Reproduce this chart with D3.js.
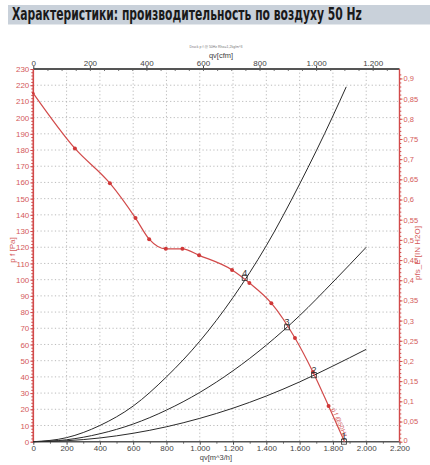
<!DOCTYPE html>
<html><head><meta charset="utf-8">
<script src="https://cdn.jsdelivr.net/npm/d3@7"></script>
<style>body{margin:0;background:#fff}svg{display:block}</style>
</head><body><svg id="c" width="430" height="465"></svg>
<script>
// ---- data ----
const titleText = "Характеристики: производительность по воздуху 50 Hz";
const subTitle = "Druck p f @ 50Hz Rho=1,2kg/m^3";
const xTicks = [0,200,400,600,800,1000,1200,1400,1600,1800,2000,2200];
const cfmTicks = [0,200,400,600,800,1000,1200];
const yTicks = [0,10,20,30,40,50,60,70,80,90,100,110,120,130,140,150,160,170,180,190,200,210,220,230];
const inTicks = [0,0.05,0.1,0.15,0.2,0.25,0.3,0.35,0.4,0.45,0.5,0.55,0.6,0.65,0.7,0.75,0.8,0.85,0.9];
// fan curve p f [Pa] vs qv [m^3/h]
const fanQ = [0,250,460,614,696,796,896,996,1194,1298,1430,1572,1680,1774,1870];
const fanP = [215,181,159.5,138,125,119,119,115,106,98,85.5,64,43,22,0];
const markerQ = [250,460,614,696,796,896,996,1194,1298,1430,1572,1680,1774];
const markerP = [181,159.5,138,125,119,119,115,106,98,85.5,64,43,22];
// system curves
const sysQ = [0,200,400,600,800,1000,1200,1400,1600,1800,2000];
const sys4 = [0,2.5,10,22,40,62,89,121,159,201];
const sys4endQ = 1880, sys4endP = 219;
const sys3 = [0,1.2,4.9,10.9,19.5,30.4,43.8,59.6,77.8,98.5,120];
const sys2 = [0,0.6,2.3,5.2,9.2,14.4,20.7,28.2,36.9,46.7,57];
// operating points
const opLabels = ["1","2","3","4"];
const opQ = [1866,1686,1524,1270];
const opP = [0,41,70.6,101];

// ---- layout ----
const L = 33.3, R = 399.5, T = 69, B = 441.7;
const svg = d3.select("#c");
const red = "#d24a4a", redTxt = "#d45a5a";
const loc = d3.formatLocale({decimal:",", thousands:".", grouping:[3], currency:["",""]});

const x = d3.scaleLinear().domain([0,2200]).range([L,R]);
const y = d3.scaleLinear().domain([0,230]).range([B,T]);
const xc = d3.scaleLinear().domain([0,2200/1.699]).range([L,R]);
const yi = d3.scaleLinear().domain([0,230/249.089]).range([B,T]);

// title
svg.append("rect").attr("x",8).attr("y",5).attr("width",422).attr("height",19.5).attr("fill","#c9d1da");
const tt = svg.append("text").attr("y",20.5).text(titleText)
  .attr("font-family","'Liberation Sans Narrow','DejaVu Sans Condensed',sans-serif")
  .attr("font-weight","bold").attr("font-size",17).attr("fill","#1a1a1a");
const tw = tt.node().getComputedTextLength();
tt.attr("transform",`translate(12,0) scale(${350/tw},1)`);

// grid
const g = svg.append("g");
g.selectAll("line.h").data(yTicks.filter(d=>d>0&&d<230)).join("line")
  .attr("x1",L).attr("x2",R).attr("y1",d=>y(d)).attr("y2",d=>y(d))
  .attr("stroke","#aaa").attr("stroke-width",0.8).attr("stroke-dasharray","1.2,2.4");
g.selectAll("line.v").data(xTicks.filter(d=>d>0&&d<2200)).join("line")
  .attr("y1",T).attr("y2",B).attr("x1",d=>x(d)).attr("x2",d=>x(d))
  .attr("stroke","#aaa").attr("stroke-width",0.8).attr("stroke-dasharray","1.2,2.4");

const font = "'Liberation Sans',Arial,sans-serif";
function styleAxis(sel, col, fs){
  sel.selectAll("text").attr("font-family",font).attr("font-size",fs).attr("fill",col);
  sel.selectAll("line").attr("stroke",col);
  sel.select(".domain").remove();
}
// bottom axis
const ax = svg.append("g").attr("transform",`translate(0,${B})`)
  .call(d3.axisBottom(x).tickValues(xTicks).tickSize(3).tickPadding(1).tickFormat(loc.format(",.0f")));
styleAxis(ax,"#444",8);
svg.append("g").attr("transform",`translate(0,${B})`)
  .call(d3.axisBottom(x).tickValues(d3.range(100,2200,200)).tickSize(2).tickFormat(""))
  .call(s=>{s.select(".domain").remove();s.selectAll("line").attr("stroke","#666");});
// top axis
const at = svg.append("g").attr("transform",`translate(0,${T})`)
  .call(d3.axisTop(xc).tickValues(cfmTicks).tickSize(3).tickPadding(0).tickFormat(loc.format(",.0f")));
styleAxis(at,"#444",8);
svg.append("g").attr("transform",`translate(0,${T})`)
  .call(d3.axisBottom(xc).tickValues(d3.range(50,1295,50)).tickSize(2).tickFormat(""))
  .call(s=>{s.select(".domain").remove();s.selectAll("line").attr("stroke","#777");});
// left axis
const al = svg.append("g").attr("transform",`translate(${L},0)`)
  .call(d3.axisLeft(y).tickValues(yTicks).tickSize(3).tickPadding(1));
styleAxis(al,redTxt,8);
svg.append("g").attr("transform",`translate(${L},0)`)
  .call(d3.axisLeft(y).tickValues(d3.range(0,231,2)).tickSize(2).tickFormat(""))
  .call(s=>{s.select(".domain").remove();s.selectAll("line").attr("stroke",red);});
// right axis
const ar = svg.append("g").attr("transform",`translate(${R},0)`)
  .call(d3.axisRight(yi).tickValues(inTicks).tickSize(3).tickPadding(1).tickFormat(loc.format(".2~f")));
styleAxis(ar,redTxt,7.5);
ar.selectAll(".tick text").filter(d=>d===0).attr("dy","0.05em");
svg.append("g").attr("transform",`translate(${R},0)`)
  .call(d3.axisRight(yi).tickValues(d3.range(0,0.92,0.01)).tickSize(1.8).tickFormat(""))
  .call(s=>{s.select(".domain").remove();s.selectAll("line").attr("stroke",red);});

// frame lines
svg.append("line").attr("x1",L).attr("x2",R).attr("y1",T).attr("y2",T).attr("stroke","#555").attr("stroke-width",2);
svg.append("line").attr("x1",L).attr("x2",R).attr("y1",B).attr("y2",B).attr("stroke","#555").attr("stroke-width",1.6);
svg.append("line").attr("x1",L).attr("x2",L).attr("y1",T).attr("y2",B).attr("stroke",red).attr("stroke-width",1.6);
svg.append("line").attr("x1",R).attr("x2",R).attr("y1",T).attr("y2",B).attr("stroke",red).attr("stroke-width",1.4);

// axis titles
svg.append("text").attr("x",216).attr("y",459.5).attr("text-anchor","middle").text("qv[m^3/h]")
  .attr("font-family",font).attr("font-size",7.5).attr("fill","#444");
svg.append("text").attr("x",221).attr("y",58).attr("text-anchor","middle").text("qv[cfm]")
  .attr("font-family",font).attr("font-size",7.5).attr("fill","#444");
svg.append("text").attr("x",216).attr("y",48).attr("text-anchor","middle").text(subTitle)
  .attr("font-family",font).attr("font-size",3.5).attr("fill","#777");
svg.append("text").attr("transform","translate(15,250) rotate(-90)").attr("text-anchor","middle").text("p f [Pa]")
  .attr("font-family",font).attr("font-size",8).attr("fill",redTxt);
svg.append("text").attr("transform","translate(420,253) rotate(-90)").attr("text-anchor","middle").text("pfs_E [IN H2O]")
  .attr("font-family",font).attr("font-size",8).attr("fill",redTxt);

// system curves
const line = d3.line().x(d=>x(d[0])).y(d=>y(d[1])).curve(d3.curveMonotoneX);
const s4 = sysQ.slice(0,sys4.length).map((q,i)=>[q,sys4[i]]).concat([[sys4endQ,sys4endP]]);
const s3 = sysQ.map((q,i)=>[q,sys3[i]]);
const s2 = sysQ.map((q,i)=>[q,sys2[i]]);
[s4,s3,s2].forEach(d=>svg.append("path").attr("d",line(d)).attr("fill","none").attr("stroke","#2a2a2a").attr("stroke-width",1));

// fan curve
const fan = fanQ.map((q,i)=>[q,fanP[i]]);
svg.append("path").attr("d",line(fan)).attr("fill","none").attr("stroke",red).attr("stroke-width",1.2);
svg.selectAll("circle.m").data(markerQ.map((q,i)=>[q,markerP[i]])).join("circle")
  .attr("cx",d=>x(d[0])).attr("cy",d=>y(d[1])).attr("r",2).attr("fill","#d03838");
svg.append("circle").attr("cx",x(fanQ[0])).attr("cy",y(fanP[0])).attr("r",1.3).attr("fill","#d03838");
svg.append("text").attr("transform",`translate(${x(1790)},${y(20)}) rotate(66)`).text("p f @50Hz")
  .attr("font-family",font).attr("font-size",6.5).attr("fill",redTxt);

// operating points
opQ.forEach((q,i)=>{
  svg.append("rect").attr("x",x(q)-2.5).attr("y",y(opP[i])-2.5).attr("width",5).attr("height",5)
    .attr("fill","none").attr("stroke","#333").attr("stroke-width",0.8);
  svg.append("text").attr("x",x(q)).attr("y",y(opP[i])-2.5).attr("text-anchor","middle").text(opLabels[i])
    .attr("font-family",font).attr("font-size",9).attr("fill","#333");
});
</script></body></html>
